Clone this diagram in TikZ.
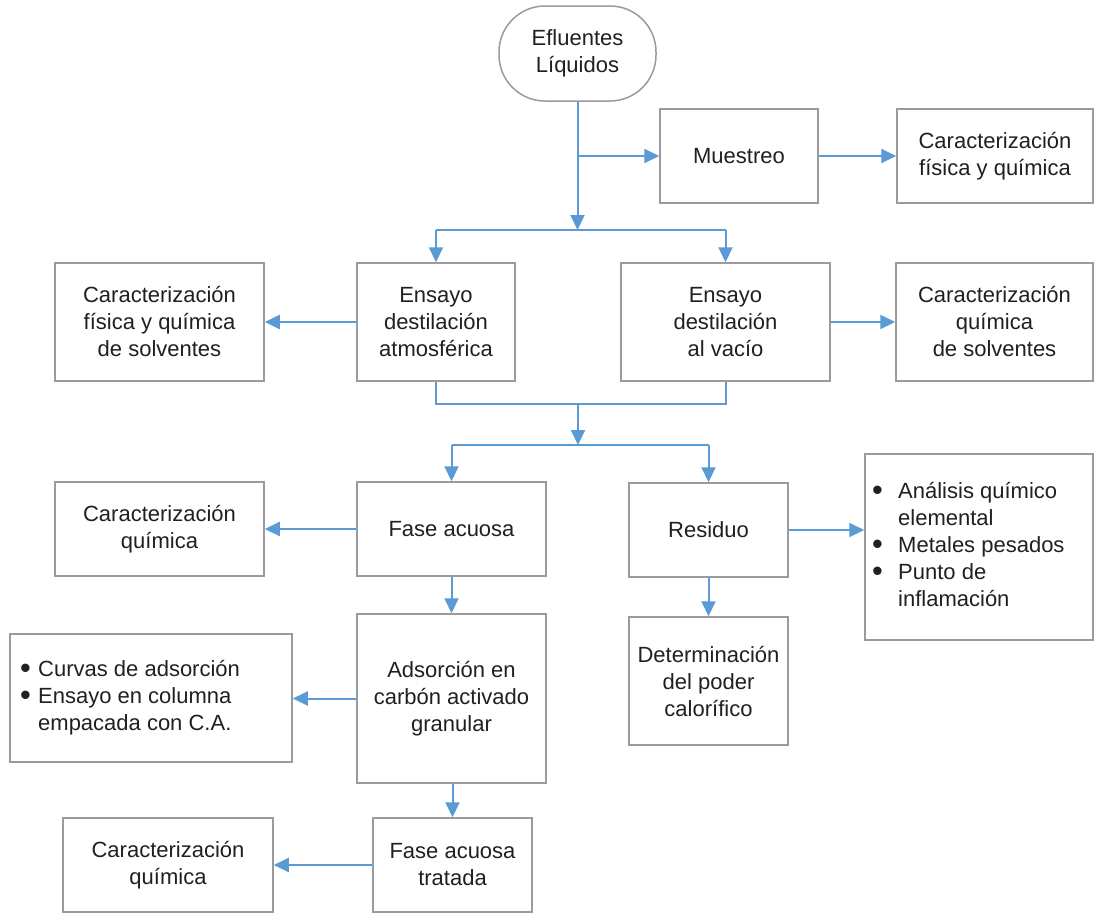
\documentclass[tikz,border=0pt]{standalone}
\usepackage{fontspec}
\setmainfont{Liberation Sans}
\usetikzlibrary{arrows.meta}
\definecolor{arrowblue}{RGB}{91,155,213}
\definecolor{boxgray}{RGB}{155,155,155}
\definecolor{txt}{RGB}{35,31,32}
\tikzset{
  box/.style={draw=boxgray, line width=1.5pt, align=center, inner sep=0pt, text=txt,
    font=\fontsize{22}{27}\selectfont},
  ln/.style={draw=arrowblue, line width=2pt},
  arr/.style={ln, -{Triangle[length=15pt,width=14pt]}},
  listtext/.style={anchor=west, inner sep=0pt, text=txt, font=\fontsize{22}{27}\selectfont},
}
\newcommand{\bx}[7][]{\node[box,#1, minimum width={#5pt-#3pt}, minimum height={#6pt-#4pt}] (#2) at ({(#3+#5)/2},{(#4+#6)/2}) {#7};}
\newcommand{\bigbul}{\raisebox{-1.8pt}{\scalebox{1.4}{\textbullet}}}
\begin{document}
\begin{tikzpicture}[x=1pt,y=-1pt]
\useasboundingbox (0,0) rectangle (1094,913);
\fill[white] (0,0) rectangle (1094,913);
\bx[rounded corners=46pt]{ef}{499}{6}{656}{101}{Efluentes\\Líquidos}
\bx{mu}{660}{109}{818}{203}{Muestreo}
\bx{cf1}{897}{109}{1093}{203}{Caracterización\\física y química}
\bx{at}{357}{263}{515}{381}{Ensayo\\destilación\\atmosférica}
\bx{va}{621}{263}{830}{381}{Ensayo\\destilación\\al vacío}
\bx{cs1}{55}{263}{264}{381}{Caracterización\\física y química\\de solventes}
\bx{cs2}{896}{263}{1093}{381}{Caracterización\\química\\de solventes}
\bx{fa}{357}{482}{546}{576}{Fase acuosa}
\bx{re}{629}{483}{788}{577}{Residuo}
\bx{cq1}{55}{482}{264}{576}{Caracterización\\química}
\bx{an}{865}{454}{1093}{640}{}
\bx{ad}{357}{614}{546}{783}{Adsorción en\\carbón activado\\granular}
\bx{cu}{10}{634}{292}{762}{}
\bx{de}{629}{617}{788}{745}{Determinación\\del poder\\calorífico}
\bx{ft}{373}{818}{532}{912}{Fase acuosa\\tratada}
\bx{cq2}{63}{818}{273}{912}{Caracterización\\química}
% bullet lists
\node[listtext] (antext) at (872,547)
  {\begin{tabular}{@{}l@{}l@{}}
   \makebox[26pt][l]{\bigbul} & Análisis químico\\
   & elemental\\
   \makebox[26pt][l]{\bigbul} & Metales pesados\\
   \makebox[26pt][l]{\bigbul} & Punto de\\
   & inflamación
   \end{tabular}};
\node[listtext] (cutext) at (20,698)
  {\begin{tabular}{@{}l@{}l@{}}
   \makebox[18pt][l]{\bigbul} & Curvas de adsorción\\
   \makebox[18pt][l]{\bigbul} & Ensayo en columna\\
   & empacada con C.A.
   \end{tabular}};
% connectors
\coordinate (h1) at (577.5,230);
\coordinate (j3) at (578,404);
\coordinate (h2) at (578,445);
\draw[arr] (ef.south) -- (h1);
\draw[arr] (ef.south |- mu.west) -- (mu.west);
\draw[arr] (mu.east) -- (cf1.west |- mu.east);
\draw[ln] (at.north |- h1) -- (va.north |- h1);
\draw[arr] (at.north |- h1) -- (at.north);
\draw[arr] (va.north |- h1) -- (va.north);
\draw[arr] (at.west) -- (cs1.east |- at.west);
\draw[arr] (va.east) -- (cs2.west |- va.east);
\draw[ln] (at.south) -- (at.south |- j3) -- (va.south |- j3) -- (va.south);
\draw[arr] (j3) -- (h2);
\draw[ln] (fa.north |- h2) -- (re.north |- h2);
\draw[arr] (fa.north |- h2) -- (fa.north);
\draw[arr] (re.north |- h2) -- (re.north);
\draw[arr] (fa.west) -- (cq1.east |- fa.west);
\draw[arr] (re.east) -- (an.west |- re.east);
\draw[arr] (re.south) -- (de.north);
\draw[arr] (fa.south) -- (ad.north);
\draw[arr] (ad.west) -- (cu.east |- ad.west);
\draw[arr] (ft.north |- ad.south) -- (ft.north);
\draw[arr] (ft.west) -- (cq2.east |- ft.west);
\end{tikzpicture}
\end{document}
